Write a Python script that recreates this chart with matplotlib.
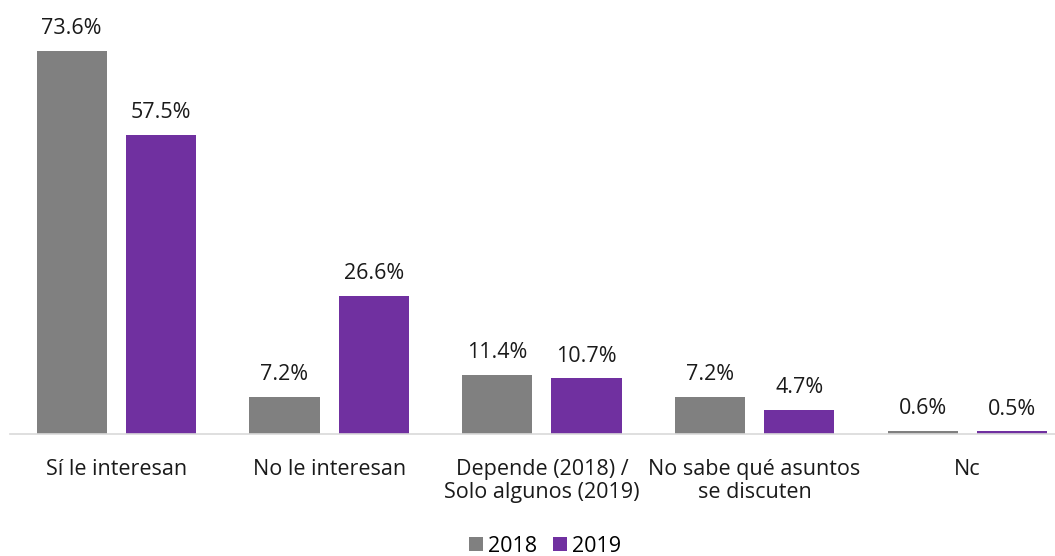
import matplotlib.pyplot as plt
import numpy as np

categories = ["Sí le interesan", "No le interesan", "Depende (2018) /\nSolo algunos (2019)",
              "No sabe qué asuntos\nse discuten", "Nc"]
values_2018 = [73.6, 7.2, 11.4, 7.2, 0.6]
values_2019 = [57.5, 26.6, 10.7, 4.7, 0.5]
series_names = ["2018", "2019"]

plt.rcParams["font.family"] = ["Open Sans", "DejaVu Sans"]

W, H = 1055, 556
fig = plt.figure(figsize=(W / 100, H / 100), dpi=100)
ax = fig.add_axes([10 / W, 1 - 434 / H, 1045 / W, (434 - 10) / H])

x = np.arange(len(categories))
bw = 0.33
off = 0.21
b1 = ax.bar(x - off, values_2018, bw, color="#808080", label=series_names[0])
b2 = ax.bar(x + off, values_2019, bw, color="#7030A0", label=series_names[1])

for bars in (b1, b2):
    for rect in bars:
        v = rect.get_height()
        ax.annotate(f"{v:.1f}%", (rect.get_x() + rect.get_width() / 2, v),
                    xytext=(0, 8.5), textcoords="offset points",
                    ha="center", va="bottom", fontsize=15.5, color="#1a1a1a")

ax.set_xlim(-0.5, -0.5 + 1045 / 212.75)
ax.set_ylim(0, (434 - 10) / 5.2)
ax.set_xticks(x)
ax.set_xticklabels(categories, fontsize=15.5, color="#1a1a1a", va="top", linespacing=1.15)
ax.tick_params(axis="x", length=0, pad=18)
ax.set_yticks([])
for s in ["top", "right", "left"]:
    ax.spines[s].set_visible(False)
ax.spines["bottom"].set_color("#d9d9d9")
ax.spines["bottom"].set_linewidth(1.2)

fig.legend(handles=[b1, b2], loc="center", bbox_to_anchor=(545 / W, 1 - 546 / H),
           ncol=2, frameon=False, fontsize=15.5, handlelength=0.65, handleheight=0.65,
           handletextpad=0.25, columnspacing=0.7)

fig.savefig("out.png", dpi=100)
